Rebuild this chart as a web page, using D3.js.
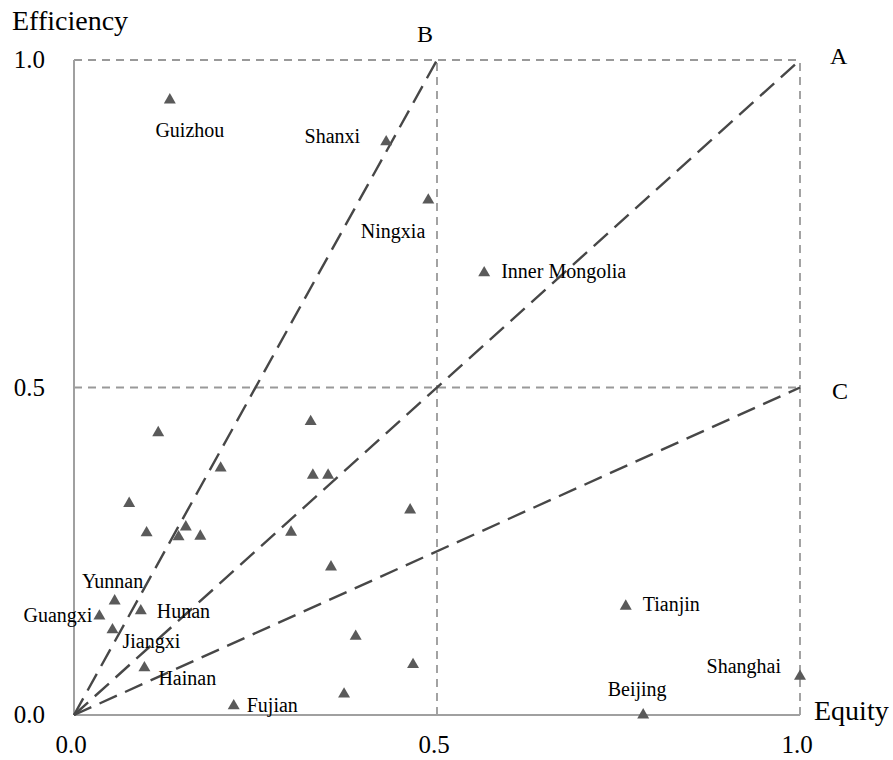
<!DOCTYPE html>
<html>
<head>
<meta charset="utf-8">
<script src="https://cdn.jsdelivr.net/npm/d3@7"></script>
<style>
  body { margin: 0; background: #fff; }
  text { font-family: "Liberation Serif", "Times New Roman", serif; fill: #000; }
</style>
</head>
<body>
<script>
// Provinces: equity (x) and efficiency (y)
const names = ["Guizhou", "Shanxi", "Ningxia", "Inner Mongolia", "", "", "", "", "", "", "",
    "", "Yunnan", "Guangxi", "Hunan", "Jiangxi", "Hainan", "Fujian", "", "", "", "",
    "", "", "", "", "Tianjin", "Shanghai", "Beijing"];
const equity = [0.132, 0.430, 0.488, 0.565, 0.116, 0.202, 0.076, 0.100, 0.154, 0.144, 0.174,
    0.299, 0.056, 0.035, 0.092, 0.053, 0.097, 0.220, 0.326, 0.329, 0.350, 0.463,
    0.354, 0.388, 0.467, 0.372, 0.760, 1.000, 0.784];
const efficiency = [0.939, 0.875, 0.786, 0.675, 0.431, 0.377, 0.323, 0.278, 0.287, 0.272, 0.273,
    0.279, 0.174, 0.151, 0.159, 0.130, 0.072, 0.014, 0.448, 0.366, 0.366, 0.313,
    0.226, 0.120, 0.077, 0.032, 0.166, 0.059, 0.000];

// Reference rays from the origin
const rayNames = ["B", "A", "C"];
const rayEnds = [[0.5, 1], [1, 1], [1, 0.5]];
const ticks = [0, 0.5, 1];

const width = 893;
const height = 760;

const svg = d3.select('body')
    .append('svg')
    .attr('width', width)
    .attr('height', height);

const x = d3.scaleLinear().domain([0, 1]).range([74, 800]);
const y = d3.scaleLinear().domain([0, 1]).range([715, 60]);

// dashed quadrant lines
const gridColor = '#999';
[[0, 1, 1, 1], [0, 0.5, 1, 0.5], [0.5, 0, 0.5, 1], [1, 0, 1, 1]].forEach(s => {
    svg.append('line')
        .attr('x1', x(s[0])).attr('y1', y(s[1]))
        .attr('x2', x(s[2])).attr('y2', y(s[3]))
        .attr('stroke', gridColor)
        .attr('stroke-width', 1.8)
        .attr('stroke-dasharray', '8,6');
});

// solid axes
svg.append('line')
    .attr('x1', x(0)).attr('y1', y(0)).attr('x2', x(0)).attr('y2', y(1))
    .attr('stroke', '#a0a0a0').attr('stroke-width', 2);
svg.append('line')
    .attr('x1', x(0)).attr('y1', y(0)).attr('x2', x(1)).attr('y2', y(0))
    .attr('stroke', '#a0a0a0').attr('stroke-width', 2);

// rays
svg.selectAll('.ray')
    .data(rayEnds)
    .enter()
    .append('line')
    .attr('class', 'ray')
    .attr('x1', x(0)).attr('y1', y(0))
    .attr('x2', d => x(d[0])).attr('y2', d => y(d[1]))
    .attr('stroke', '#474747')
    .attr('stroke-width', 2.4)
    .attr('stroke-dasharray', '19,9');

// ray letters
const rayLabelPos = { B: [-12, -18, 'middle'], A: [30, 4, 'start'], C: [32, 11, 'start'] };
svg.selectAll('.ray-label')
    .data(rayNames)
    .enter()
    .append('text')
    .attr('class', 'ray-label')
    .attr('x', (d, i) => x(rayEnds[i][0]) + rayLabelPos[d][0])
    .attr('y', (d, i) => y(rayEnds[i][1]) + rayLabelPos[d][1])
    .attr('text-anchor', d => rayLabelPos[d][2])
    .style('font-size', '24px')
    .text(d => d);

// tick labels
svg.selectAll('.ytick')
    .data(ticks)
    .enter()
    .append('text')
    .attr('class', 'ytick')
    .attr('x', x(0) - 29)
    .attr('y', d => y(d) + 8)
    .attr('text-anchor', 'end')
    .style('font-size', '25px')
    .text(d => d.toFixed(1));

svg.selectAll('.xtick')
    .data(ticks)
    .enter()
    .append('text')
    .attr('class', 'xtick')
    .attr('x', d => x(d) - 3)
    .attr('y', y(0) + 38)
    .attr('text-anchor', 'middle')
    .style('font-size', '25px')
    .text(d => d.toFixed(1));

// axis titles
svg.append('text')
    .attr('x', 12).attr('y', 30)
    .style('font-size', '28px')
    .text('Efficiency');
svg.append('text')
    .attr('x', 814).attr('y', 720)
    .style('font-size', '28px')
    .text('Equity');

// points
const triangle = d3.symbol().type(d3.symbolTriangle).size(62);
svg.selectAll('.pt')
    .data(equity)
    .enter()
    .append('path')
    .attr('class', 'pt')
    .attr('d', triangle)
    .attr('transform', (d, i) => `translate(${x(d)},${y(efficiency[i])})`)
    .attr('fill', '#5a5a5a');

// point labels: offsets from the marker
const labelPos = {
    'Guizhou': [20, 37, 'middle'],
    'Shanxi': [-26, 1, 'end'],
    'Ningxia': [-3, 38, 'end'],
    'Inner Mongolia': [17, 5, 'start'],
    'Yunnan': [-2, -13, 'middle'],
    'Guangxi': [-7, 6, 'end'],
    'Hunan': [16, 7, 'start'],
    'Jiangxi': [10, 18, 'start'],
    'Hainan': [14, 17, 'start'],
    'Fujian': [13, 6, 'start'],
    'Tianjin': [17, 5, 'start'],
    'Shanghai': [-19, -3, 'end'],
    'Beijing': [-6, -19, 'middle']
};
const labelled = names.map((n, i) => i).filter(i => names[i] !== '');
svg.selectAll('.pt-label')
    .data(labelled)
    .enter()
    .append('text')
    .attr('class', 'pt-label')
    .attr('x', i => x(equity[i]) + labelPos[names[i]][0])
    .attr('y', i => y(efficiency[i]) + labelPos[names[i]][1])
    .attr('text-anchor', i => labelPos[names[i]][2])
    .style('font-size', '20px')
    .text(i => names[i]);
</script>
</body>
</html>
